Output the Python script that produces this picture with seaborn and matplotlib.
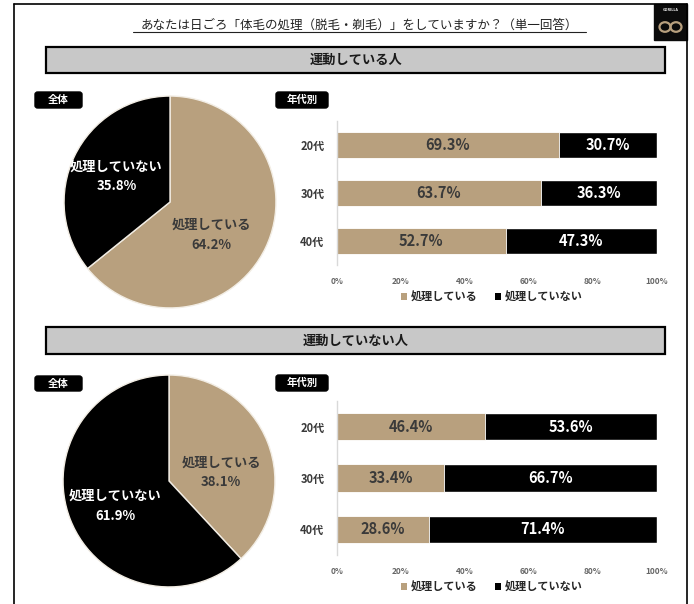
import matplotlib
matplotlib.use("Agg")
import matplotlib.pyplot as plt
from matplotlib.patches import Rectangle, FancyBboxPatch, Patch, Circle
from matplotlib.lines import Line2D
import numpy as np
import seaborn as sns
import pandas as pd

# ---- survey data -------------------------------------------------------
title = "あなたは日ごろ「体毛の処理（脱毛・剃毛）」をしていますか？（単一回答）"
group_names = ["運動している人", "運動していない人"]
answer_labels = ["処理している", "処理していない"]
age_groups = ["20代", "30代", "40代"]

active_overall = [64.2, 35.8]
inactive_overall = [38.1, 61.9]

active_done = [69.3, 63.7, 52.7]
active_not = [30.7, 36.3, 47.3]
inactive_done = [46.4, 33.4, 28.6]
inactive_not = [53.6, 66.7, 71.4]

x_ticks = [0, 20, 40, 60, 80, 100]
x_tick_labels = ["0%", "20%", "40%", "60%", "80%", "100%"]

# ---- styling -------------------------------------------------------------
TAN = "#b8a07e"
BLACK = "#000000"
DARK_TEXT = "#3a3a3a"

sns.set_style("white")
plt.rcParams["font.family"] = ["Noto Sans CJK JP", "DejaVu Sans"]

W, H = 694, 604
fig = plt.figure(figsize=(W / 100, H / 100), dpi=100)


def box(x0, y0, x1, y1):
    """Pixel box (top-left origin) -> figure-fraction rect."""
    return [x0 / W, 1 - y1 / H, (x1 - x0) / W, (y1 - y0) / H]


def fx(x):
    return x / W


def fy(y):
    return 1 - y / H


# ---- outer frame, title and logo --------------------------------------
for xs, ys in [((14, 14), (4, 610)), ((14, 687), (4, 4)), ((687, 687), (4, 610))]:
    fig.add_artist(Line2D([fx(v) for v in xs], [fy(v) for v in ys],
                          color="black", lw=1.2))

fig.text(fx(359), fy(25), title, ha="center", va="center", fontsize=9,
         color="#222222")
fig.add_artist(Line2D([fx(133), fx(586)], [fy(32), fy(32)], color="#222222", lw=0.8))

# small badge in the top-right corner
fig.add_artist(Rectangle((fx(654), fy(40)), 33 / W, 36 / H, color="#0b0b0b",
                         transform=fig.transFigure))
fig.text(fx(670.5), fy(10), "GORILLA", ha="center", va="center", fontsize=2.6,
         color="white", weight="bold")
for cx in (665, 676):
    fig.add_artist(Circle((fx(cx), fy(27)), 5.5 / W, fill=False, ec=TAN, lw=1.6,
                          transform=fig.transFigure))


def header(y0, y1, text):
    fig.add_artist(Rectangle((fx(46), fy(y1)), (665 - 46) / W, (y1 - y0) / H,
                             facecolor="#c8c8c8", edgecolor="black", lw=1.6,
                             transform=fig.transFigure))
    fig.text(fx(356), fy((y0 + y1) / 2), text, ha="center", va="center",
             fontsize=9.5, color="#1a1a1a", weight="bold")


def tag(x0, y0, x1, y1, text):
    fig.add_artist(FancyBboxPatch((fx(x0), fy(y1)), (x1 - x0) / W, (y1 - y0) / H,
                                  boxstyle="round,pad=0,rounding_size=0.004",
                                  facecolor="black", edgecolor="black",
                                  transform=fig.transFigure))
    fig.text(fx((x0 + x1) / 2), fy((y0 + y1) / 2), text, ha="center", va="center",
             fontsize=7.5, color="white", weight="bold")


def pie_panel(rect, values, shifts):
    ax = fig.add_axes(rect)
    wedges, _ = ax.pie(values, colors=[TAN, BLACK], startangle=90,
                       counterclock=False,
                       wedgeprops=dict(edgecolor="#f2ede4", linewidth=1.0))
    ax.set_xlim(-1.01, 1.01)
    ax.set_ylim(-1.01, 1.01)
    ax.set_aspect("equal")
    dists = [0.5, 0.56]
    tcolors = [DARK_TEXT, "white"]
    for w, lab, v, d, c, s in zip(wedges, answer_labels, values, dists,
                                  tcolors, shifts):
        mid = np.deg2rad((w.theta1 + w.theta2) / 2 + s)
        ax.text(d * np.cos(mid), d * np.sin(mid), f"{lab}\n{v:.1f}%",
                ha="center", va="center", fontsize=9.5, color=c,
                weight="bold", linespacing=1.55)


def bar_panel(rect, done, notdone, legend_y):
    ax = fig.add_axes(rect)
    df = pd.DataFrame({"age": age_groups, "done": done, "notdone": notdone})
    df["total"] = df["done"] + df["notdone"]
    sns.barplot(data=df, y="age", x="total", color=BLACK, saturation=1,
                orient="h", width=0.53, ax=ax)
    sns.barplot(data=df, y="age", x="done", color=TAN, saturation=1,
                orient="h", width=0.53, ax=ax, edgecolor="white", linewidth=0.6)
    for i, (d, n) in enumerate(zip(done, notdone)):
        ax.text(d / 2, i, f"{d:.1f}%", ha="center", va="center",
                fontsize=10.5, color=DARK_TEXT, weight="bold")
        ax.text(d + n / 2, i, f"{n:.1f}%", ha="center", va="center",
                fontsize=10.5, color="white", weight="bold")
    ax.set_xlim(0, 100)
    ax.set_ylim(2.5, -0.5)
    ax.set_xlabel("")
    ax.set_ylabel("")
    ax.set_xticks(x_ticks)
    ax.set_xticklabels(x_tick_labels, fontsize=6, color="#666666", weight="bold")
    ax.tick_params(axis="x", length=0, pad=9)
    ax.tick_params(axis="y", length=0, pad=9, labelsize=8, labelcolor=DARK_TEXT)
    for t in ax.get_yticklabels():
        t.set_weight("bold")
    for s in ("top", "right", "bottom"):
        ax.spines[s].set_visible(False)
    ax.spines["left"].set_color("#d9d9d9")
    ax.spines["left"].set_linewidth(1.0)
    handles = [Patch(facecolor=TAN, edgecolor="none"),
               Patch(facecolor=BLACK, edgecolor="none")]
    fig.legend(handles, answer_labels, loc="center",
               bbox_to_anchor=(fx(492), fy(legend_y)), ncol=2, frameon=False,
               handlelength=0.55, handleheight=0.55,
               handletextpad=0.3, columnspacing=1.6,
               prop={"weight": "bold", "size": 8})


# ---- upper section: active people -------------------------------------
header(47, 73, group_names[0])
tag(35, 92, 82, 108, "全体")
tag(276, 92, 328, 108, "年代別")
pie_panel(box(63, 95, 277, 309), active_overall, [-13, 0])
bar_panel(box(337, 121, 657, 265), active_done, active_not, 297)

# ---- lower section: inactive people -----------------------------------
header(327, 354, group_names[1])
tag(35, 376, 82, 391, "全体")
tag(276, 375, 328, 391, "年代別")
pie_panel(box(62, 374, 276, 588), inactive_overall, [-12, 3])
bar_panel(box(337, 401, 657, 555), inactive_done, inactive_not, 587)

fig.savefig("out.png", dpi=100)
